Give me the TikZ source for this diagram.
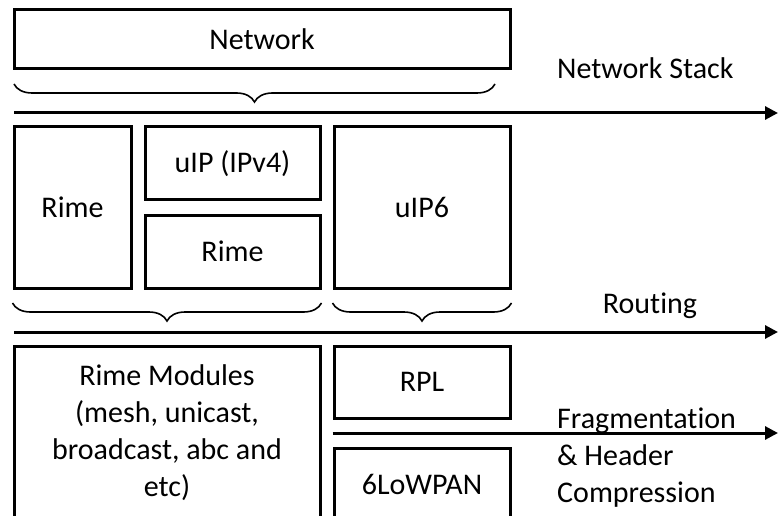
\documentclass[tikz,border=0pt]{standalone}
\usepackage{fontspec}
\setmainfont[Ligatures={NoCommon}]{Carlito}
\usepackage{tikz}
\usetikzlibrary{arrows.meta,decorations.pathreplacing}
\newcommand{\lbl}{\fontsize{30}{37}\selectfont}

\begin{document}
\begin{tikzpicture}[
  x=1pt, y=1pt,
  >={Triangle[length=13pt,width=13pt]},
  block/.style={draw, line width=3pt, inner sep=2pt,
                align=center, font=\lbl},
  flow/.style={->, line width=3pt},
  layer/.style={draw, line width=1.6pt,
                decorate, decoration={brace, mirror, amplitude=18pt}},
  tag/.style={font=\lbl, inner sep=0pt, align=left},
]
\useasboundingbox (0,0) rectangle (779,515);
\clip (0,0) rectangle (779,515);

% --- Top layer ---
\node[block, minimum width=496, minimum height=59] (net) at (262,475.5) {Network};

% --- Middle layer ---
\node[block, minimum width=117, minimum height=161] (rimeA) at (72.5,307.5) {Rime};
\node[block, minimum width=175, minimum height=73]  (uip4)  at (232.5,351.5) {uIP (IPv4)};
\node[block, minimum width=175, minimum height=73]  (rimeB) at (232.5,263.5) {Rime};
\node[block, minimum width=176, minimum height=161] (uip6)  at (422,307.5) {uIP6};

% --- Bottom layer (cut off by the page) ---
\node[block, minimum width=306, minimum height=174] (rimemod) at (167,82)
  {Rime Modules\\(mesh, unicast,\\broadcast, abc and\\etc)};
\node[block, minimum width=176, minimum height=72] (rpl)    at (422,133) {RPL};
\node[block, minimum width=176, minimum height=72] (lowpan) at (422,31)  {6LoWPAN};

% --- Braces under each layer ---
\draw[layer] (14,431) -- (495,431);
\draw[layer] (rimeA.west |- 0,212) -- (uip4.east |- 0,212);
\draw[layer] (uip6.west |- 0,212) -- (uip6.east |- 0,212);

% --- Layer boundaries ---
\coordinate (stack_l) at (14,402);
\coordinate (stack_r) at (778,402);
\coordinate (route_l) at (14,183);
\coordinate (route_r) at (778,183);
\coordinate (frag_l)  at (rpl.west |- 0,82);
\coordinate (frag_r)  at (778,82);
\draw[flow] (stack_l) -- (stack_r);
\draw[flow] (route_l) -- (route_r);
\draw[flow] (frag_l)  -- (frag_r);

% --- Boundary names ---
\node[tag, anchor=base west] (stacktxt) at (557,436) {Network Stack};
\node[tag, anchor=base] (routetxt) at (650,202) {Routing};
\node[tag, anchor=base west] (fragtxt) at (557,13)
  {Fragmentation\\\& Header\\Compression};
\end{tikzpicture}
\end{document}
